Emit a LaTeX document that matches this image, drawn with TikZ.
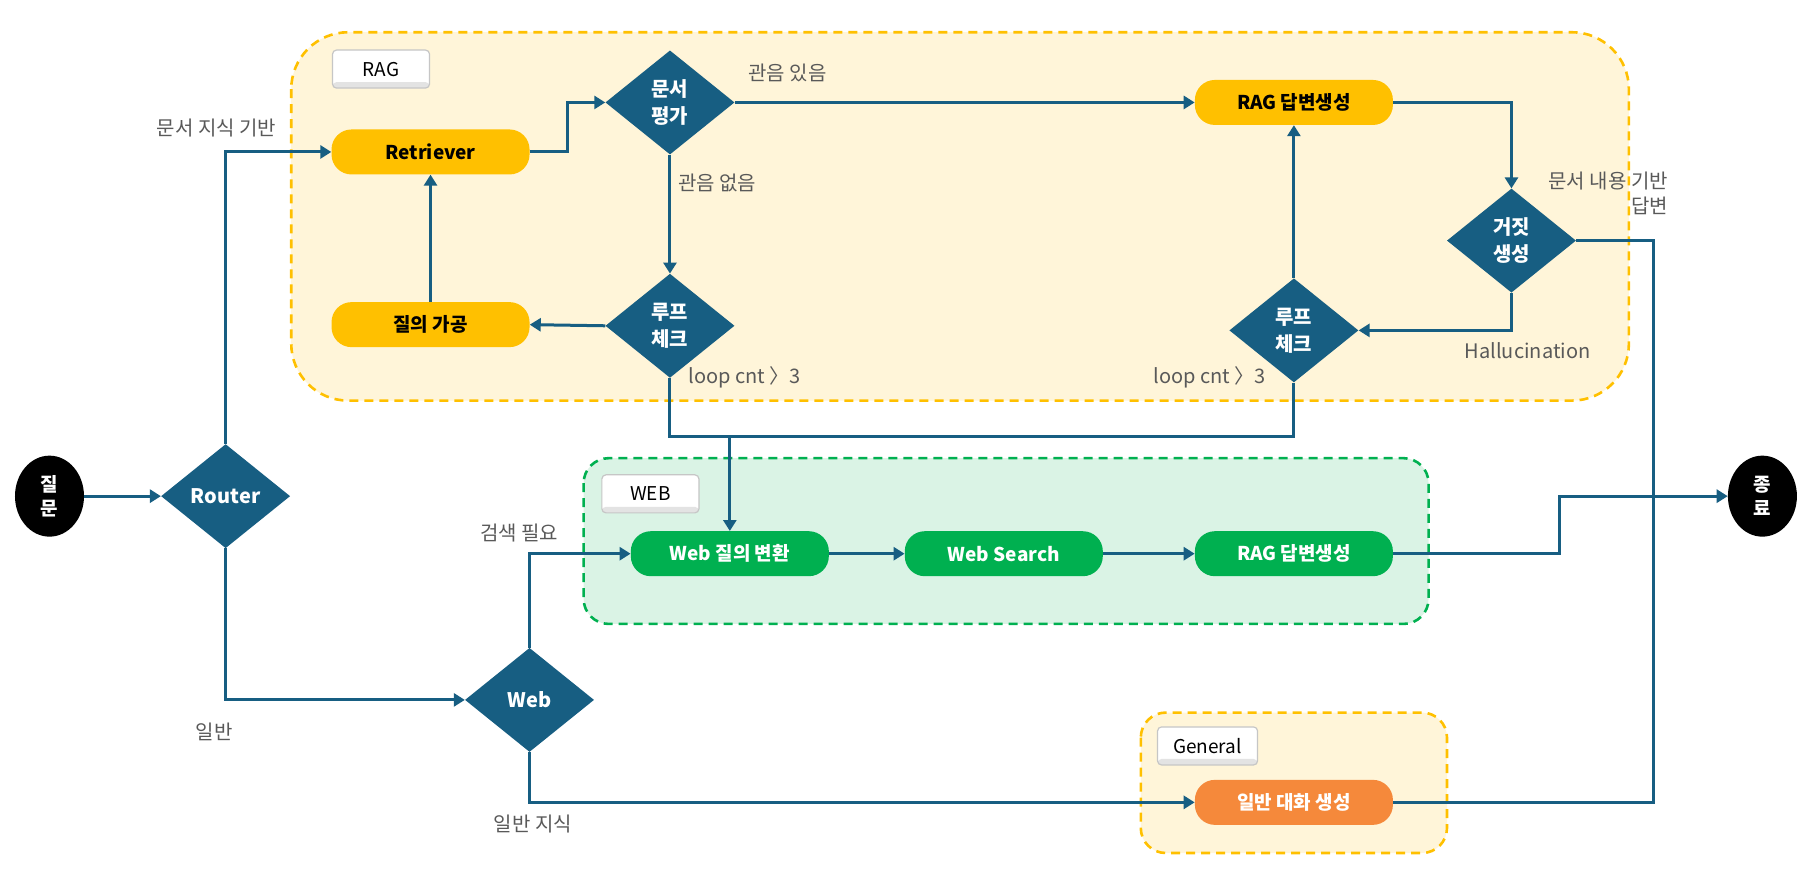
\documentclass[tikz,border=0pt]{standalone}
\usepackage{fontspec}
\setmainfont{Noto Sans CJK KR}
\usepackage{tikz}
\usetikzlibrary{shapes.geometric}
\usetikzlibrary{arrows.meta}

\definecolor{flowblue}{HTML}{175E82}
\definecolor{ragyellow}{HTML}{FFC000}
\definecolor{ragbg}{HTML}{FFF5D9}
\definecolor{webgreen}{HTML}{00B050}
\definecolor{webbg}{HTML}{DAF3E5}
\definecolor{genorange}{HTML}{F5893B}
\definecolor{labelgray}{HTML}{595959}

\tikzset{
  decision/.style={diamond, fill=flowblue, text=white, aspect=1.22,
    minimum width=129pt, minimum height=104pt, inner sep=0pt, align=center,
    font=\bfseries\fontsize{20}{27}\selectfont},
  process/.style={rounded corners=20pt, minimum width=198pt, minimum height=45pt,
    inner sep=0pt, font=\bfseries\fontsize{19}{22}\selectfont},
  ragbox/.style={process, fill=ragyellow, text=black},
  webbox/.style={process, fill=webgreen, text=white},
  genbox/.style={process, fill=genorange, text=white},
  terminal/.style={ellipse, fill=black, text=white, minimum width=69pt,
    minimum height=81pt, inner sep=0pt, align=center,
    font=\bfseries\fontsize{19}{24}\selectfont},
  group/.style={line width=2.6pt, dash pattern=on 9pt off 6pt},
  tag/.style={draw=gray!45, line width=1.2pt, fill=white, rounded corners=4pt,
    minimum width=97pt, minimum height=38pt, inner sep=0pt,
    font=\fontsize{19}{22}\selectfont,
    path picture={\fill[gray!22] (path picture bounding box.south west)
      rectangle ([yshift=6pt]path picture bounding box.south east);}},
  edgelabel/.style={text=labelgray, font=\fontsize{20}{25}\selectfont, inner sep=0pt},
  flow/.style={draw=flowblue, line width=3pt},
  arrowflow/.style={flow, -{Triangle[length=11pt,width=13pt]}}
}

\begin{document}
\begin{tikzpicture}[x=1.151pt, y=-1.151pt]

\useasboundingbox (0,0) rectangle (1568,771);

% gruppi
\draw[group, draw=ragyellow, fill=ragbg, rounded corners=57pt] (253,28) rectangle (1415,348);
\draw[group, draw=webgreen, fill=webbg, rounded corners=25pt] (507,398) rectangle (1241,542);
\draw[group, draw=ragyellow, fill=ragbg, rounded corners=25pt] (991,619) rectangle (1257,741);

\node[tag] (ragtag) at (331,60) {RAG};
\node[tag] (webtag) at (565,429) {WEB};
\node[tag, minimum width=100pt] (gentag) at (1049,648) {General};

% nodi
\node[terminal] (question) at (43,431) {질\\문};
\node[terminal] (finish) at (1531,431) {종\\료};
\node[decision] (router) at (196,431) {Router};
\node[decision] (webdec) at (460,608) {Web};

\node[ragbox] (retriever) at (374,132) {Retriever};
\node[ragbox] (rewrite) at (374,282) {질의 가공};
\node[decision] (grade) at (582,89) {문서\\평가};
\node[decision] (loopa) at (582,283) {루프\\체크};
\node[ragbox] (raganswer) at (1124,89) {RAG 답변생성};
\node[decision] (halluc) at (1313,209) {거짓\\생성};
\node[decision] (loopb) at (1124,287) {루프\\체크};

\node[webbox] (webquery) at (634,481) {Web 질의 변환};
\node[webbox] (websearch) at (872,481) {Web Search};
\node[webbox] (webanswer) at (1124,481) {RAG 답변생성};

\node[genbox] (general) at (1124,697) {일반 대화 생성};

\coordinate (merge) at (634,379);
\coordinate (bus) at (1436,431);
\coordinate (turn) at (1355,431);

% frecce
\draw[arrowflow] (question) -- (router);
\draw[arrowflow] (router.north) |- (retriever.west);
\draw[arrowflow] (router.south) |- (webdec.west);
\draw[arrowflow] (retriever.east) -- ++(33,0) |- (grade.west);
\draw[arrowflow] (grade.east) -- (raganswer.west);
\draw[arrowflow] (grade.south) -- (loopa.north);
\draw[arrowflow] (loopa.west) -- (rewrite.east);
\draw[arrowflow] (rewrite.north) -- (retriever.south);
\draw[arrowflow] (raganswer.east) -| (halluc.north);
\draw[arrowflow] (halluc.south) |- (loopb.east);
\draw[arrowflow] (loopb.north) -- (raganswer.south);
\draw[arrowflow] (loopa.south) |- (merge) -- (webquery.north);
\draw[flow] (loopb.south) |- (merge);
\draw[arrowflow] (webdec.north) |- (webquery.west);
\draw[arrowflow] (webdec.south) |- (general.west);
\draw[arrowflow] (webquery) -- (websearch);
\draw[arrowflow] (websearch) -- (webanswer);
\draw[flow] (halluc.east) -| (bus);
\draw[flow] (general.east) -| (bus);
\draw[arrowflow] (webanswer.east) -| (turn) -- (finish.west);

% etichette
\node[edgelabel] (lbldoc) at (188,111) {문서 지식 기반};
\node[edgelabel] (lblgen) at (186,636) {일반};
\node[edgelabel] (lblyes) at (684,63) {관음 있음};
\node[edgelabel] (lblno) at (623,159) {관음 없음};
\node[edgelabel] (lblloopa) at (647,328) {loop cnt 〉3};
\node[edgelabel] (lblloopb) at (1051,328) {loop cnt 〉3};
\node[edgelabel] (lblhal) at (1327,305) {Hallucination};
\node[edgelabel, align=right, anchor=north east] (lblbased) at (1449,149) {문서 내용 기반\\답변};
\node[edgelabel] (lblsearch) at (451,463) {검색 필요};
\node[edgelabel] (lblknow) at (463,716) {일반 지식};

\end{tikzpicture}
\end{document}
